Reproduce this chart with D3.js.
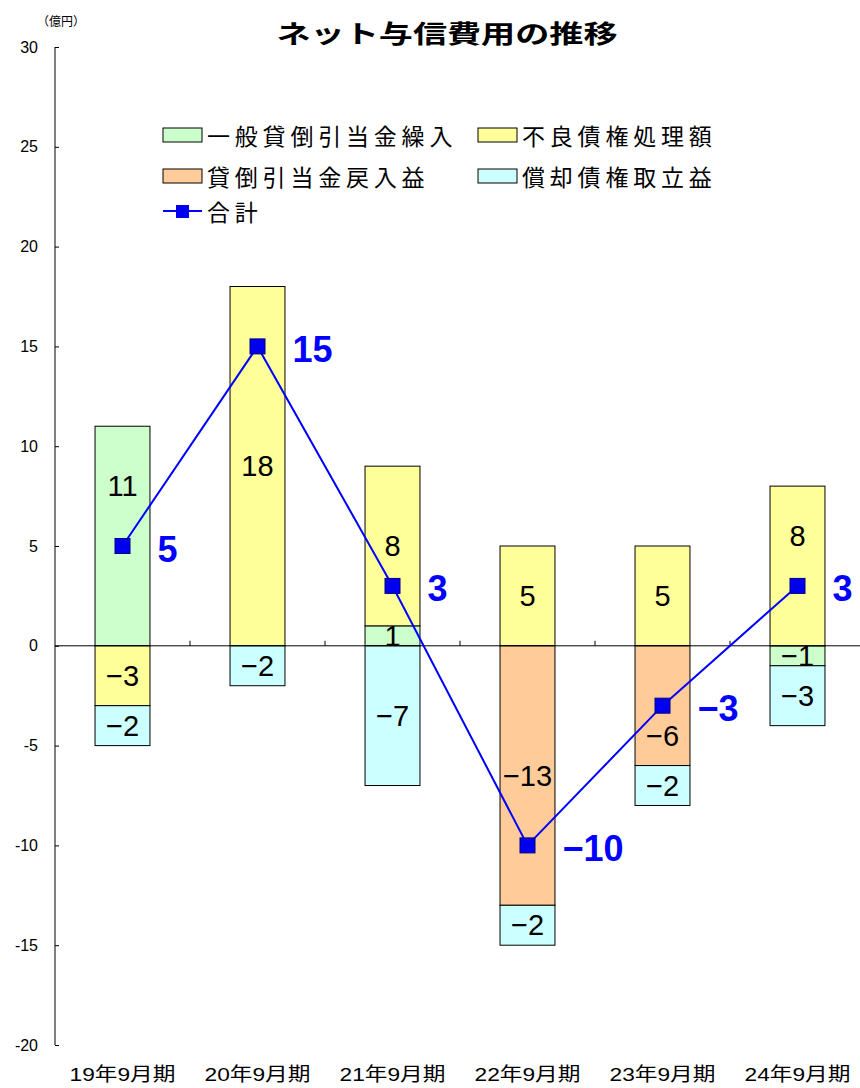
<!DOCTYPE html>
<html>
<head>
<meta charset="utf-8">
<script src="https://cdn.jsdelivr.net/npm/d3@7"></script>
<style>
  body { margin: 0; background: #fff; }
  svg { display: block; }
  .num { font-family: "Liberation Sans", Arial, "Noto Sans CJK JP", sans-serif; }
  .jp { font-family: "Noto Sans CJK JP", sans-serif; }
</style>
</head>
<body>
<div id="chart"></div>
<script>
// data (億円)
const periods = ["19年9月期", "20年9月期", "21年9月期", "22年9月期", "23年9月期", "24年9月期"];
const seriesNames = ["一般貸倒引当金繰入", "不良債権処理額", "貸倒引当金戻入益", "償却債権取立益"];
const ippan    = [11, 0, 1, 0, 0, -1];
const furyo    = [-3, 18, 8, 5, 5, 8];
const modoshi  = [0, 0, 0, -13, -6, 0];
const shokyaku = [-2, -2, -7, -2, -2, -3];
const totals   = [5, 15, 3, -10, -3, 3];
const yTicks   = [30, 25, 20, 15, 10, 5, 0, -5, -10, -15, -20];
const colors   = ["#ccffcc", "#ffff99", "#ffcc99", "#ccffff"];

const seriesValues = [ippan, furyo, modoshi, shokyaku];

const width = 860, height = 1088;
const svg = d3.select("#chart").append("svg")
    .attr("width", width)
    .attr("height", height);

const rows = periods.map((p, i) => {
    const r = { period: p, idx: i };
    seriesNames.forEach((s, k) => r[s] = seriesValues[k][i]);
    return r;
});

const x = d3.scaleBand()
    .domain(periods)
    .range([55, 865])
    .paddingInner(0.593)
    .paddingOuter(0.593 / 2);
const step = x.step();
const cx = p => x(p) + x.bandwidth() / 2;

const y = d3.scaleLinear()
    .domain([-20, 30])
    .range([1045, 47]);

const layers = d3.stack()
    .keys(seriesNames)
    .offset(d3.stackOffsetDiverging)(rows);

// title
svg.append("text")
    .attr("class", "jp")
    .attr("x", 447)
    .attr("y", 32)
    .attr("text-anchor", "middle")
    .attr("dominant-baseline", "central")
    .attr("textLength", 341)
    .attr("lengthAdjust", "spacingAndGlyphs")
    .style("font-size", "25px")
    .style("font-weight", "bold")
    .text("ネット与信費用の推移");

// unit
svg.append("text")
    .attr("class", "jp")
    .attr("x", 37)
    .attr("y", 20)
    .attr("dominant-baseline", "central")
    .attr("textLength", 48)
    .attr("lengthAdjust", "spacing")
    .style("font-size", "12px")
    .text("（億円）");

// y axis, ticks pointing inward
const yAxis = svg.append("g")
    .attr("class", "num")
    .attr("transform", "translate(55,0)")
    .call(d3.axisLeft(y).tickValues(yTicks).tickSize(-4).tickPadding(17).tickFormat(d => String(d)));
yAxis.select(".domain").attr("d", `M0,${y(30)}V${y(-20)}`).attr("stroke", "#000");
yAxis.selectAll(".tick line").attr("stroke", "#000");
yAxis.selectAll(".tick text").style("font-size", "16px").attr("fill", "#000");

// bars
layers.forEach((layer, k) => {
    svg.append("g").selectAll("rect")
        .data(layer.filter(d => d[1] !== d[0]))
        .enter()
        .append("rect")
        .attr("x", d => x(d.data.period))
        .attr("y", d => y(d[1]))
        .attr("width", x.bandwidth())
        .attr("height", d => y(d[0]) - y(d[1]))
        .attr("fill", colors[k])
        .attr("stroke", "#000")
        .attr("stroke-width", 1);
});

// zero line with small ticks between categories
svg.append("line")
    .attr("x1", 55).attr("x2", width)
    .attr("y1", y(0)).attr("y2", y(0))
    .attr("stroke", "#000");
svg.append("g").selectAll("line")
    .data(periods.slice(1))
    .enter()
    .append("line")
    .attr("x1", d => x(d) - (step - x.bandwidth()) / 2)
    .attr("x2", d => x(d) - (step - x.bandwidth()) / 2)
    .attr("y1", y(0)).attr("y2", y(0) - 5)
    .attr("stroke", "#000");

// bar value labels (moved off the total marker when they would collide)
const fmt = v => (v < 0 ? "−" + Math.abs(v) : String(v));
layers.forEach((layer, k) => {
    svg.append("g").selectAll("text")
        .data(layer.filter(d => d[1] !== d[0]))
        .enter()
        .append("text")
        .attr("class", "num")
        .attr("x", d => cx(d.data.period))
        .attr("y", d => {
            const mid = y((d[0] + d[1]) / 2);
            const my = y(totals[d.data.idx]);
            if (Math.abs(mid - my) > 30) return mid;
            const v = seriesValues[k][d.data.idx];
            const outer = v > 0 ? y(d[1]) : y(d[0]);
            return (my + outer) / 2;
        })
        .attr("text-anchor", "middle")
        .attr("dominant-baseline", "central")
        .style("font-size", "29px")
        .text(d => fmt(seriesValues[k][d.data.idx]));
});

// total line
const line = d3.line()
    .x((d, i) => cx(periods[i]))
    .y(d => y(d));
svg.append("path")
    .datum(totals)
    .attr("d", line)
    .attr("fill", "none")
    .attr("stroke", "#0000ff")
    .attr("stroke-width", 2);
svg.append("g").selectAll("rect")
    .data(totals)
    .enter()
    .append("rect")
    .attr("x", (d, i) => cx(periods[i]) - 7.5)
    .attr("y", d => y(d) - 7.5)
    .attr("width", 15)
    .attr("height", 15)
    .attr("fill", "#0000ee")
    .attr("stroke", "#000080")
    .attr("stroke-width", 1);
svg.append("g").selectAll("text")
    .data(totals)
    .enter()
    .append("text")
    .attr("class", "num")
    .attr("x", (d, i) => cx(periods[i]) + 35)
    .attr("y", d => y(d) + 3)
    .attr("dominant-baseline", "central")
    .attr("fill", "#0000ff")
    .style("font-size", "36px")
    .style("font-weight", "bold")
    .text(d => fmt(d));

// x labels
svg.append("g").selectAll("text")
    .data(periods)
    .enter()
    .append("text")
    .attr("class", "num")
    .attr("x", d => cx(d))
    .attr("y", 1074)
    .attr("text-anchor", "middle")
    .attr("dominant-baseline", "central")
    .attr("textLength", 106)
    .attr("lengthAdjust", "spacingAndGlyphs")
    .style("font-size", "19px")
    .text(d => d);

// legend
const legendItems = [
    { name: seriesNames[0], color: colors[0], lx: 163, ly: 135 },
    { name: seriesNames[1], color: colors[1], lx: 478, ly: 135 },
    { name: seriesNames[2], color: colors[2], lx: 163, ly: 176 },
    { name: seriesNames[3], color: colors[3], lx: 478, ly: 176 }
];
const legend = svg.append("g").attr("class", "jp");
legend.selectAll("rect")
    .data(legendItems)
    .enter()
    .append("rect")
    .attr("x", d => d.lx)
    .attr("y", d => d.ly - 7)
    .attr("width", 39)
    .attr("height", 14)
    .attr("fill", d => d.color)
    .attr("stroke", "#000");
legend.selectAll("text.item")
    .data(legendItems)
    .enter()
    .append("text")
    .attr("class", "item")
    .attr("x", d => d.lx + 44)
    .attr("y", d => d.ly)
    .attr("dominant-baseline", "central")
    .style("font-size", "23px")
    .style("letter-spacing", "4.8px")
    .text(d => d.name);
legend.append("line")
    .attr("x1", 163).attr("x2", 202)
    .attr("y1", 211).attr("y2", 211)
    .attr("stroke", "#0000ff")
    .attr("stroke-width", 2);
legend.append("rect")
    .attr("x", 176).attr("y", 205)
    .attr("width", 13).attr("height", 13)
    .attr("fill", "#0000ee");
legend.append("text")
    .attr("x", 207)
    .attr("y", 211)
    .attr("dominant-baseline", "central")
    .style("font-size", "23px")
    .style("letter-spacing", "4.8px")
    .text("合計");
</script>
</body>
</html>
